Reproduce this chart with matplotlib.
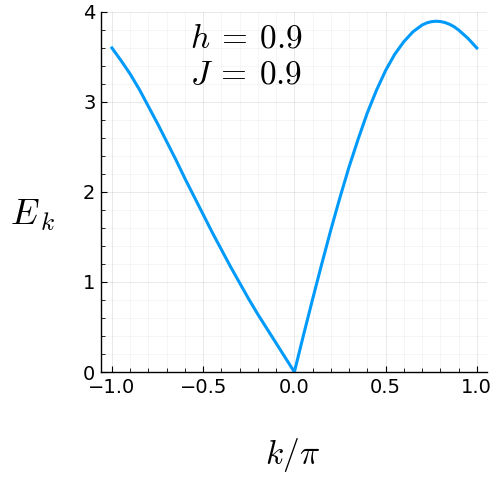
import numpy as np
import matplotlib
matplotlib.use('Agg')
import matplotlib.pyplot as plt
from matplotlib.ticker import MultipleLocator

plt.rcParams['mathtext.fontset'] = 'cm'

# k/pi and E_k
k = [-1.00, -0.95, -0.90, -0.85, -0.80, -0.75, -0.70, -0.65, -0.60, -0.55,
     -0.50, -0.45, -0.40, -0.35, -0.30, -0.25, -0.20, -0.15, -0.10, -0.05,
     0.00, 0.05, 0.10, 0.15, 0.20, 0.25, 0.30, 0.35, 0.40, 0.45,
     0.50, 0.55, 0.60, 0.65, 0.70, 0.725, 0.75, 0.775, 0.80, 0.825,
     0.85, 0.875, 0.90, 0.95, 1.00]
E = [3.60, 3.46, 3.31, 3.14, 2.95, 2.76, 2.56, 2.36, 2.15, 1.95,
     1.75, 1.55, 1.36, 1.17, 0.99, 0.81, 0.64, 0.48, 0.32, 0.16,
     0.00, 0.41, 0.81, 1.20, 1.58, 1.94, 2.28, 2.59, 2.88, 3.13,
     3.35, 3.53, 3.67, 3.78, 3.855, 3.878, 3.892, 3.897, 3.894, 3.883,
     3.864, 3.837, 3.80, 3.71, 3.60]
h_val = 0.9
J_val = 0.9

fig = plt.figure(figsize=(4.99, 4.99), dpi=100)
ax = fig.add_axes([0.2024, 0.2545, 0.7736, 0.7215])

ax.plot(k, E, color='#009AFA', lw=2.2)

ax.set_xlim(-1.06, 1.056)
ax.set_ylim(0, 4)
ax.set_xticks([-1.0, -0.5, 0.0, 0.5, 1.0])
ax.set_xticklabels(['\u22121.0', '\u22120.5', '0.0', '0.5', '1.0'])
ax.set_yticks([0, 1, 2, 3, 4])
ax.xaxis.set_minor_locator(MultipleLocator(0.1))
ax.yaxis.set_minor_locator(MultipleLocator(0.2))

ax.grid(which='major', color='k', alpha=0.1, lw=0.6)
ax.grid(which='minor', color='k', alpha=0.05, lw=0.5)
ax.set_axisbelow(True)

for s in ['top', 'right']:
    ax.spines[s].set_visible(False)
for s in ['left', 'bottom']:
    ax.spines[s].set_linewidth(1.0)

ax.tick_params(which='major', direction='in', length=4, width=0.8, labelsize=14, pad=4)
ax.tick_params(which='minor', direction='in', length=3, width=0.6)

ax.text(-0.262, 3.71, r'$h\:=\:%.1f$' % h_val, fontsize=24, ha='center', va='center')
ax.text(-0.262, 3.30, r'$J\:=\:%.1f$' % J_val, fontsize=24, ha='center', va='center')

fig.text(292 / 499, 1 - 455 / 499, r'$k/\pi$', fontsize=24, ha='center', va='center')
fig.text(33 / 499, 1 - 215 / 499, r'$E_{\,k}$', fontsize=26, ha='center', va='center')

plt.savefig('out.png', dpi=100)
